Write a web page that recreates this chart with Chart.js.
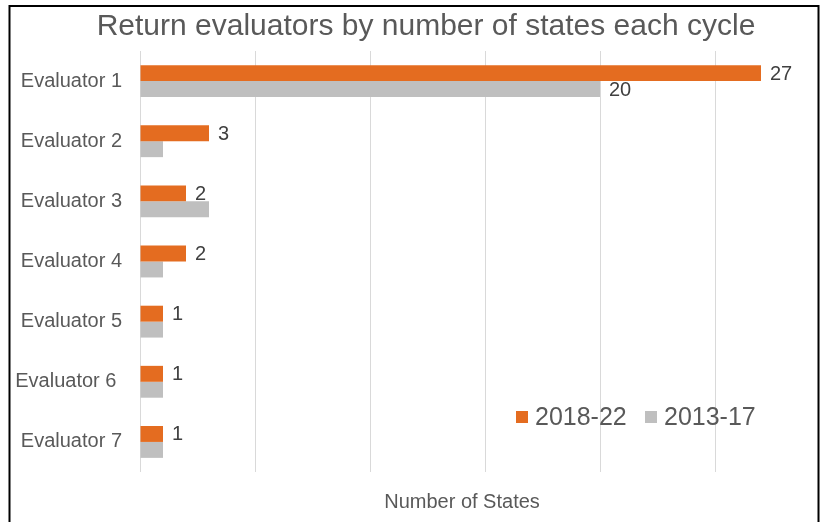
<!DOCTYPE html>
<html>
<head>
<meta charset="utf-8">
<script src="https://cdn.jsdelivr.net/npm/chart.js@4.4.0/dist/chart.umd.min.js"></script>
<style>
  html, body { margin: 0; padding: 0; background: #fff; overflow: hidden; }
  #wrap { width: 822px; height: 522px; position: relative; }
</style>
</head>
<body>
<div id="wrap"><canvas id="c" width="822" height="522"></canvas></div>
<script>
const categories = ["Evaluator 1", "Evaluator 2", "Evaluator 3", "Evaluator 4", "Evaluator 5", "Evaluator 6 ", "Evaluator 7"];
const series2018 = [27, 3, 2, 2, 1, 1, 1];
const series2013 = [20, 1, 3, 1, 1, 1, 1];
const labels2018 = ["27", "3", "2", "2", "1", "1", "1"];
const labels2013 = ["20", null, null, null, null, null, null];
const seriesNames = ["2018-22", "2013-17"];
const xTickStep = 5;
const xMax = 28;
const titleText = "Return evaluators by number of states each cycle";
const xTitle = "Number of States";

const ORANGE = "#E46C20";
const GRAY = "#BFBFBF";
const TEXT = "#595959";
const FONT = "'Liberation Sans', Arial, sans-serif";

const decorPlugin = {
  id: "decor",
  afterDraw(chart) {
    const ctx = chart.ctx;
    ctx.save();
    // frame
    ctx.strokeStyle = "#000";
    ctx.lineWidth = 2;
    ctx.strokeRect(9.5, 6, 809, 560);
    // title
    ctx.fillStyle = TEXT;
    ctx.font = "30px " + FONT;
    ctx.textAlign = "center";
    ctx.textBaseline = "middle";
    ctx.fillText(titleText, 426, 27);
    // data labels
    ctx.font = "20px " + FONT;
    ctx.textAlign = "left";
    ctx.fillStyle = "#404040";
    const lblSets = [labels2018, labels2013];
    chart.data.datasets.forEach((ds, di) => {
      const meta = chart.getDatasetMeta(di);
      meta.data.forEach((el, i) => {
        const t = lblSets[di][i];
        if (t) ctx.fillText(t, el.x + 9, el.y + 1);
      });
    });
    // legend
    const items = [{c: ORANGE, t: seriesNames[0], x: 516}, {c: GRAY, t: seriesNames[1], x: 645}];
    ctx.font = "25px " + FONT;
    items.forEach(it => {
      ctx.fillStyle = it.c;
      ctx.fillRect(it.x, 411, 12, 12);
      ctx.fillStyle = TEXT;
      ctx.fillText(it.t, it.x + 19, 418);
    });
    ctx.restore();
  }
};

new Chart(document.getElementById("c"), {
  type: "bar",
  data: {
    labels: categories,
    datasets: [
      { label: seriesNames[0], data: series2018, backgroundColor: ORANGE, borderWidth: 0 },
      { label: seriesNames[1], data: series2013, backgroundColor: GRAY, borderWidth: 0 }
    ]
  },
  options: {
    indexAxis: "y",
    responsive: false,
    animation: false,
    devicePixelRatio: 1,
    layout: { padding: { top: 51, left: 0, right: 38, bottom: 0 } },
    datasets: { bar: { categoryPercentage: 0.53, barPercentage: 1.0 } },
    plugins: {
      legend: { display: false },
      title: { display: false },
      tooltip: { enabled: false }
    },
    scales: {
      x: {
        min: 0,
        max: xMax,
        border: { display: false },
        grid: { color: "#D9D9D9", lineWidth: 1, drawTicks: false },
        ticks: { display: false, stepSize: xTickStep, includeBounds: false },
        title: {
          display: true,
          text: xTitle,
          color: TEXT,
          font: { family: FONT, size: 20 },
          padding: { top: 18, bottom: 8 }
        }
      },
      y: {
        border: { display: false },
        grid: { display: false, drawTicks: false },
        ticks: { color: TEXT, font: { family: FONT, size: 20 }, padding: 18 },
        afterFit(scale) { scale.width = 140; }
      }
    }
  },
  plugins: [decorPlugin]
});
</script>
</body>
</html>
